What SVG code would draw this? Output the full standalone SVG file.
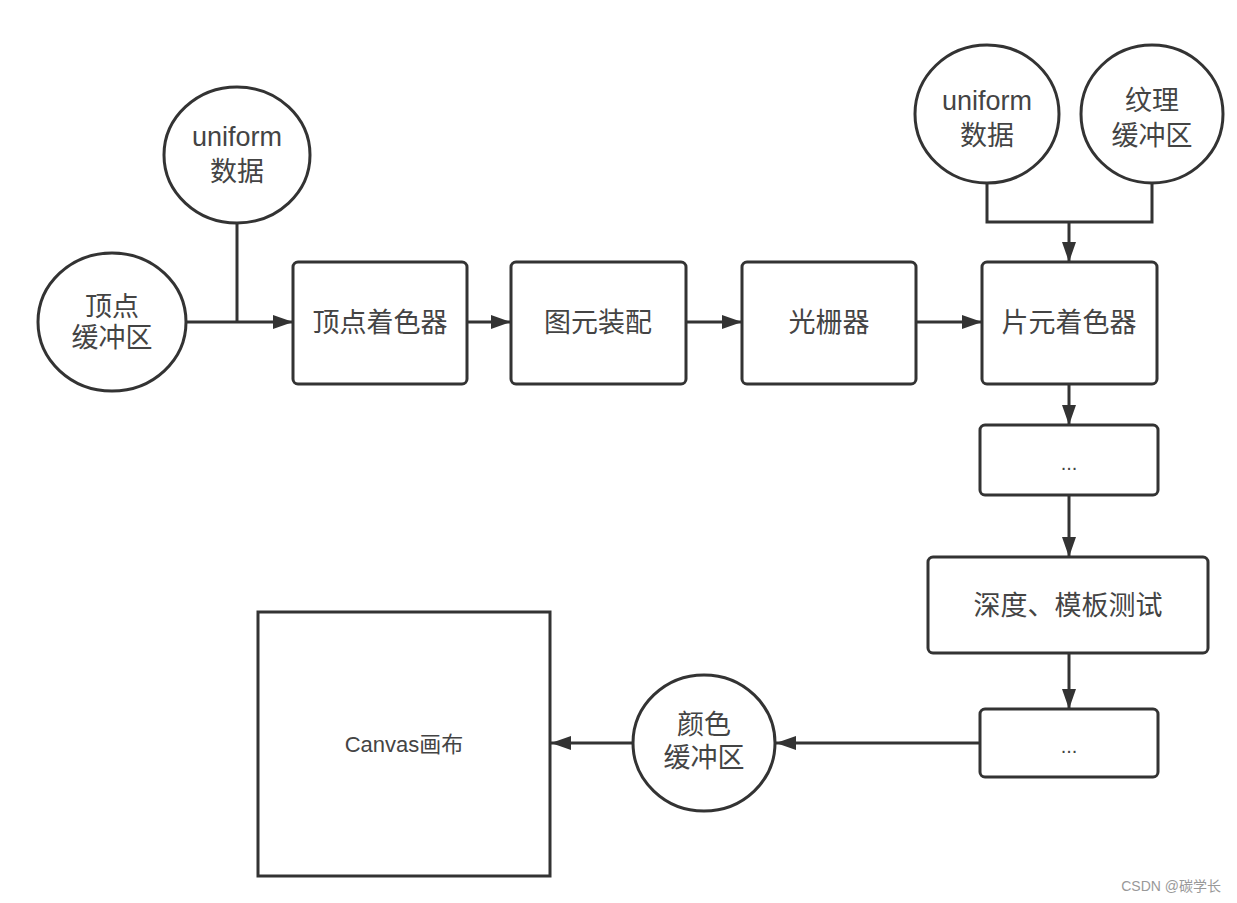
<svg xmlns="http://www.w3.org/2000/svg" width="1237" height="903" viewBox="0 0 1237 903">
<defs>
<marker id="arr" markerUnits="userSpaceOnUse" markerWidth="20" markerHeight="14" refX="20" refY="7" orient="auto">
<path d="M0,0 L20,7 L0,14 z" fill="#333"/>
</marker>
<style>
.n{fill:#fff;stroke:#333;stroke-width:3}
.t{font-family:"Liberation Sans","Noto Sans CJK SC",sans-serif;font-size:27px;fill:#444;text-anchor:middle}
.c{fill:none;stroke:#333;stroke-width:3}
</style>
</defs>
<rect width="1237" height="903" fill="#fff"/>
<g id="connectors">
<line class="c" x1="237" y1="223" x2="237" y2="322"/>
<line class="c" x1="186" y1="322" x2="293" y2="322" marker-end="url(#arr)"/>
<line class="c" x1="467" y1="322" x2="511" y2="322" marker-end="url(#arr)"/>
<line class="c" x1="686" y1="322" x2="742" y2="322" marker-end="url(#arr)"/>
<line class="c" x1="916" y1="322" x2="982" y2="322" marker-end="url(#arr)"/>
<path class="c" d="M987,183 V222 H1152 V183"/>
<line class="c" x1="1069" y1="222" x2="1069" y2="262" marker-end="url(#arr)"/>
<line class="c" x1="1069" y1="384" x2="1069" y2="425" marker-end="url(#arr)"/>
<line class="c" x1="1069" y1="495" x2="1069" y2="557" marker-end="url(#arr)"/>
<line class="c" x1="1069" y1="653" x2="1069" y2="709" marker-end="url(#arr)"/>
<line class="c" x1="980" y1="743" x2="776" y2="743" marker-end="url(#arr)"/>
<line class="c" x1="633" y1="743" x2="551" y2="743" marker-end="url(#arr)"/>
</g>
<g id="uniform1">
<ellipse class="n" cx="237" cy="155" rx="73" ry="68"/>
<text class="t" x="237" y="146">uniform</text>
<text class="t" x="237" y="181">数据</text>
</g>
<g id="vertexBuffer">
<ellipse class="n" cx="112" cy="322" rx="74" ry="69"/>
<text class="t" x="112" y="316">顶点</text>
<text class="t" x="112" y="347">缓冲区</text>
</g>
<g id="vertexShader">
<rect class="n" x="293" y="262" width="174" height="122" rx="5"/>
<text class="t" x="380" y="332">顶点着色器</text>
</g>
<g id="primitiveAssembly">
<rect class="n" x="511" y="262" width="175" height="122" rx="5"/>
<text class="t" x="598" y="332">图元装配</text>
</g>
<g id="rasterizer">
<rect class="n" x="742" y="262" width="174" height="122" rx="5"/>
<text class="t" x="829" y="332">光栅器</text>
</g>
<g id="uniform2">
<ellipse class="n" cx="987" cy="114" rx="72" ry="69"/>
<text class="t" x="987" y="110">uniform</text>
<text class="t" x="987" y="145">数据</text>
</g>
<g id="textureBuffer">
<ellipse class="n" cx="1152" cy="114" rx="71" ry="69"/>
<text class="t" x="1152" y="110">纹理</text>
<text class="t" x="1152" y="145">缓冲区</text>
</g>
<g id="fragmentShader">
<rect class="n" x="982" y="262" width="175" height="122" rx="5"/>
<text class="t" x="1069" y="332">片元着色器</text>
</g>
<g id="etc1">
<rect class="n" x="980" y="425" width="178" height="70" rx="5"/>
<text class="t" x="1069" y="470" style="font-size:20px">...</text>
</g>
<g id="depthStencil">
<rect class="n" x="928" y="557" width="280" height="96" rx="5"/>
<text class="t" x="1068" y="615">深度、模板测试</text>
</g>
<g id="etc2">
<rect class="n" x="980" y="709" width="178" height="68" rx="5"/>
<text class="t" x="1069" y="753" style="font-size:20px">...</text>
</g>
<g id="colorBuffer">
<ellipse class="n" cx="704" cy="743" rx="71" ry="68"/>
<text class="t" x="704" y="734">颜色</text>
<text class="t" x="704" y="767">缓冲区</text>
</g>
<g id="canvas">
<rect class="n" x="258" y="612" width="292" height="264"/>
<text class="t" x="404" y="752" style="font-size:22px">Canvas画布</text>
</g>
<text x="1221" y="891" style="font-family:'Liberation Sans','Noto Sans CJK SC',sans-serif;font-size:14px;fill:#999;text-anchor:end">CSDN @碳学长</text>
</svg>
